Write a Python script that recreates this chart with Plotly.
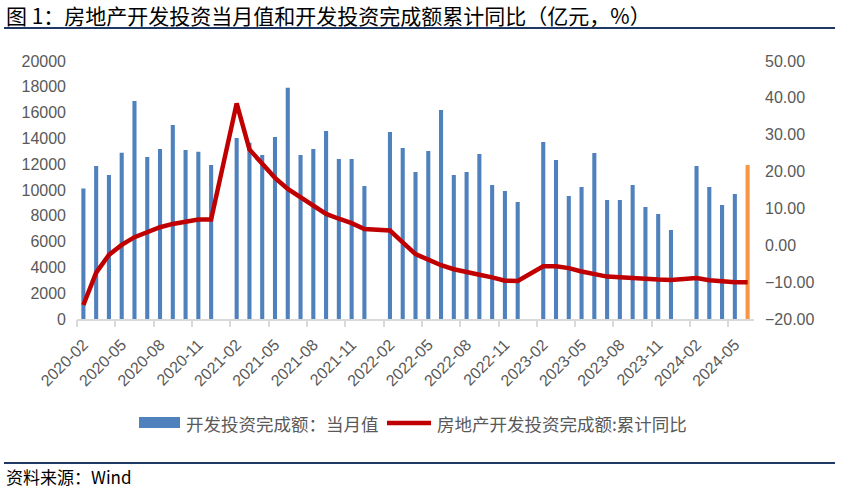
import plotly.graph_objects as go

months = [
    "2020-02", "2020-03", "2020-04", "2020-05", "2020-06", "2020-07", "2020-08", "2020-09", "2020-10", "2020-11", "2020-12",
    "2021-01", "2021-02", "2021-03", "2021-04", "2021-05", "2021-06", "2021-07", "2021-08", "2021-09", "2021-10", "2021-11", "2021-12",
    "2022-01", "2022-02", "2022-03", "2022-04", "2022-05", "2022-06", "2022-07", "2022-08", "2022-09", "2022-10", "2022-11", "2022-12",
    "2023-01", "2023-02", "2023-03", "2023-04", "2023-05", "2023-06", "2023-07", "2023-08", "2023-09", "2023-10", "2023-11", "2023-12",
    "2024-01", "2024-02", "2024-03", "2024-04", "2024-05", "2024-06",
]

monthly_value = [
    10115, 11860, 11163, 12894, 16899, 12558, 13178, 15039, 13101, 12972, 11938,
    None, 14031, 13669, 12713, 14109, 17934, 12713, 13178, 14574, 12403, 12403, 10310,
    None, 14496, 13256, 11395, 13023, 16202, 11163, 11395, 12791, 10388, 9922, 9070,
    None, 13721, 12326, 9535, 10233, 12868, 9225, 9225, 10388, 8682, 8140, 6899,
    None, 11860, 10233, 8837, 9690, 11938,
]

cumulative_yoy = [
    -16.2, -7.4, -2.6, 0.1, 2.2, 3.5, 4.9, 5.8, 6.4, 7.0, 7.0,
    None, 38.5, 26.0, 22.0, 18.3, 15.3, 13.0, 10.8, 8.5, 7.2, 6.0, 4.4,
    None, 4.0, 0.8, -2.4, -3.9, -5.4, -6.5, -7.4, -8.0, -8.7, -9.6, -9.7,
    None, -5.7, -5.7, -6.2, -7.1, -7.8, -8.5, -8.7, -9.0, -9.1, -9.3, -9.4,
    None, -8.9, -9.5, -9.8, -10.0, -10.0,
]

bar_name = "开发投资完成额：当月值"
line_name = "房地产开发投资完成额:累计同比"
title_text = "图 1：房地产开发投资当月值和开发投资完成额累计同比（亿元，%）"
source_text = "资料来源：Wind"

BLUE = "#4F81BD"
ORANGE = "#F79646"
RED = "#C00000"
GRAY_TXT = "#595959"
AXIS_GRAY = "#D9D9D9"
NAVY = "#1F3864"
CJK = "Noto Sans CJK SC"
NUM = "Liberation Sans, Arial, sans-serif"

W, H = 849, 489
L, R, T, B = 77, 95, 61, 170
PW, PH = W - L - R, H - T - B


def px_x(px):
    return (px - L) / PW


def px_y(py):
    return (H - B - py) / PH


n = len(months)
idx = list(range(n))
bar_colors = [BLUE] * (n - 1) + [ORANGE]

fig = go.Figure()
fig.add_trace(go.Bar(
    x=idx, y=monthly_value, name=bar_name, marker_color=bar_colors,
    marker_line_width=0, yaxis="y", showlegend=False,
))
fig.add_trace(go.Scatter(
    x=idx, y=cumulative_yoy, name=line_name, mode="lines",
    line=dict(color=RED, width=4.5), connectgaps=True, yaxis="y2",
    showlegend=False,
))

label_idx = idx[::3]
boundary_ticks = [i - 0.5 for i in idx[::3]]

fig.update_layout(
    width=W, height=H,
    margin=dict(l=L, r=R, t=T, b=B),
    paper_bgcolor="white", plot_bgcolor="white",
    bargap=0.68,
    font=dict(family=NUM, color=GRAY_TXT),
    xaxis=dict(
        range=[-0.5, n - 0.5], tickmode="array", tickvals=label_idx,
        ticktext=[months[i] for i in label_idx], tickangle=-45,
        ticks="", showgrid=False, zeroline=False,
        showline=True, linecolor=AXIS_GRAY, linewidth=2,
        ticklabelstandoff=8,
        tickfont=dict(family=NUM, size=16, color=GRAY_TXT),
    ),
    xaxis2=dict(
        range=[-0.5, n - 0.5], overlaying="x", anchor="y", side="bottom",
        tickmode="array", tickvals=boundary_ticks, showticklabels=False,
        ticks="outside", ticklen=7, tickwidth=2, tickcolor=AXIS_GRAY,
        showgrid=False, zeroline=False, showline=False,
    ),
    yaxis=dict(
        range=[0, 20000], dtick=2000, tick0=0, tickformat="d",
        showgrid=False, zeroline=False,
        showline=False, ticks="", ticklabelstandoff=10,
        tickfont=dict(family=NUM, size=16, color=GRAY_TXT),
    ),
    yaxis2=dict(
        range=[-20, 50], dtick=10, tick0=-20, overlaying="y", side="right",
        tickformat=".2f", showgrid=False, zeroline=False, showline=False,
        ticks="", ticklabelstandoff=10,
        tickfont=dict(family=NUM, size=16, color=GRAY_TXT),
    ),
)

# invisible trace to activate xaxis2 tick marks
fig.add_trace(go.Scatter(x=[idx[0]], y=[None], xaxis="x2", yaxis="y",
                         showlegend=False, hoverinfo="skip"))

shapes = [
    dict(type="line", xref="paper", yref="paper", x0=px_x(4), x1=px_x(835),
         y0=px_y(28), y1=px_y(28), line=dict(color=NAVY, width=2)),
    dict(type="line", xref="paper", yref="paper", x0=px_x(4), x1=px_x(835),
         y0=px_y(463), y1=px_y(463), line=dict(color=NAVY, width=2)),
    # legend symbols
    dict(type="rect", xref="paper", yref="paper", x0=px_x(139), x1=px_x(180),
         y0=px_y(428), y1=px_y(417), fillcolor=BLUE, line=dict(width=0)),
    dict(type="line", xref="paper", yref="paper", x0=px_x(387), x1=px_x(431),
         y0=px_y(423), y1=px_y(423), line=dict(color=RED, width=4.5)),
]
annotations = [
    dict(text=title_text, xref="paper", yref="paper", x=px_x(4), y=px_y(15),
         xanchor="left", yanchor="middle", showarrow=False,
         font=dict(family=CJK, size=21, color="black")),
    dict(text=source_text, xref="paper", yref="paper", x=px_x(4), y=px_y(476),
         xanchor="left", yanchor="middle", showarrow=False,
         font=dict(family=CJK, size=17, color="black")),
    dict(text=bar_name, xref="paper", yref="paper", x=px_x(184), y=px_y(423),
         xanchor="left", yanchor="middle", showarrow=False,
         font=dict(family=CJK, size=17.5, color=GRAY_TXT)),
    dict(text=line_name, xref="paper", yref="paper", x=px_x(435), y=px_y(423),
         xanchor="left", yanchor="middle", showarrow=False,
         font=dict(family=CJK, size=17.5, color=GRAY_TXT)),
]
fig.update_layout(shapes=shapes, annotations=annotations)

fig.write_html("out.html")
